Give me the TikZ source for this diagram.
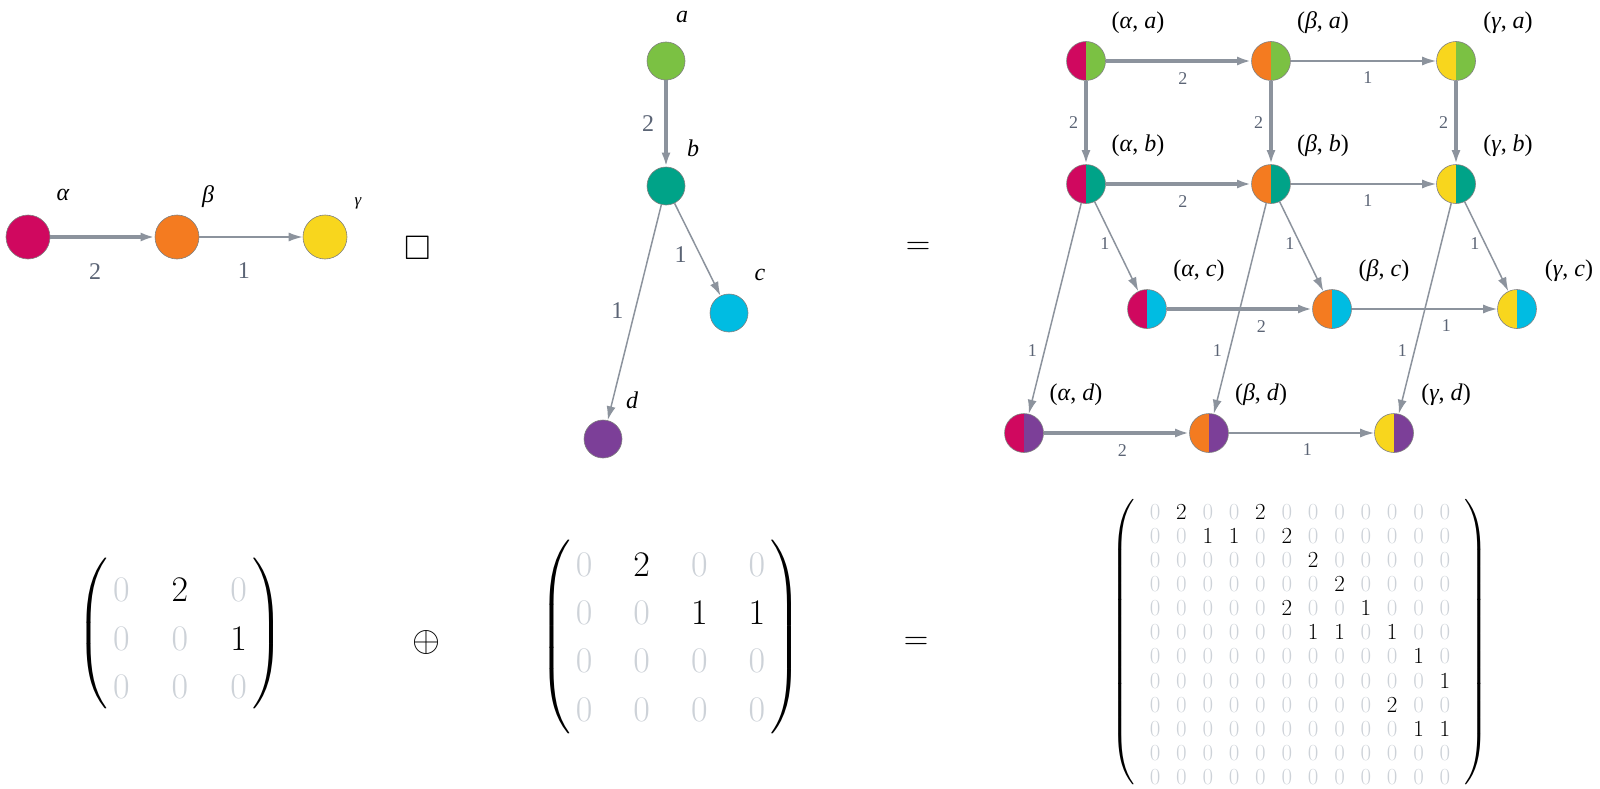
\RequirePackage{fix-cm}
\documentclass[tikz,border=0pt]{standalone}
\usepackage{amsmath}
\usepackage{amssymb}
\usepackage{fontspec}
\newfontfamily\grfont{Liberation Serif}
\usetikzlibrary{arrows.meta,matrix}

\definecolor{cAlpha}{HTML}{D0085F}
\definecolor{cBeta}{HTML}{F47B20}
\definecolor{cGamma}{HTML}{F8D61D}
\definecolor{cA}{HTML}{7BC143}
\definecolor{cB}{HTML}{00A388}
\definecolor{cC}{HTML}{00BCE2}
\definecolor{cD}{HTML}{7C3F98}
\definecolor{eline}{HTML}{8C939D}
\definecolor{etext}{HTML}{5B6475}
\definecolor{zerogray}{HTML}{CDD2D8}

\newcommand{\zz}{\color{zerogray}0}
\newcommand{\pairlbl}[2]{(\textit{#1}, \textit{#2})}

\tikzset{
  vtx/.style={circle, draw=black!50, line width=0.6pt, inner sep=0pt, minimum size=#1},
  pairvtx/.style 2 args={circle, draw=black!50, line width=0.6pt, inner sep=0pt, minimum size=39pt,
    path picture={
      \fill[#1] (path picture bounding box.south west) rectangle (path picture bounding box.north);
      \fill[#2] (path picture bounding box.south east) rectangle (path picture bounding box.north);
    }},
  wt1/.style={draw=eline, line width=1.5pt, -{Latex[length=14pt,width=9pt]}},
  wt2/.style={draw=eline, line width=4pt, -{Latex[length=14pt,width=9pt]}},
  lbl/.style={inner sep=0pt, font=\fontsize{24}{28}\grfont\itshape},
  plab/.style={inner sep=0pt, font=\fontsize{24}{28}\grfont},
  elbl/.style={inner sep=0pt, text=etext, font=\fontsize{24}{28}\grfont},
  plbl/.style={inner sep=0pt, text=etext, font=\fontsize{18}{22}\grfont},
  op/.style={inner sep=0pt, font=\fontsize{34}{40}\selectfont},
  mtx/.style={matrix of math nodes, nodes={inner sep=0pt}, inner xsep=4pt,
    left delimiter=(, right delimiter=)}
}

\begin{document}
\begin{tikzpicture}[x=1pt, y=-1pt]
\useasboundingbox (0,0) rectangle (1600,789);

% first factor
\node[vtx=44pt, fill=cAlpha] (al) at (28,237) {};
\node[vtx=44pt, fill=cBeta] (be) at (177,237) {};
\node[vtx=44pt, fill=cGamma] (ga) at (325,237) {};
\node[lbl] (l-al) at ([shift={(35,-42)}]al.center) {α};
\node[lbl] (l-be) at ([shift={(31,-40)}]be.center) {β};
\node[lbl, font=\fontsize{17}{20}\grfont\itshape] (l-ga) at ([shift={(33,-34)}]ga.center) {γ};
\draw[wt2] (al) -- node[elbl, below=25pt, pos=0.43] (w-albe) {2} (be);
\draw[wt1] (be) -- node[elbl, below=25pt, pos=0.43] (w-bega) {1} (ga);

\node[op] (box) at (418,248) {$\square$};

% second factor
\node[vtx=38pt, fill=cA] (a) at (666,61) {};
\node[vtx=38pt, fill=cB] (b) at (666,186) {};
\node[vtx=38pt, fill=cC] (c) at (729,313) {};
\node[vtx=38pt, fill=cD] (d) at (603,439) {};
\node[lbl] (l-a) at ([shift={(16,-44)}]a.center) {a};
\node[lbl] (l-b) at ([shift={(27,-38)}]b.center) {b};
\node[lbl] (l-c) at ([shift={(31,-38)}]c.center) {c};
\node[lbl] (l-d) at ([shift={(29,-39)}]d.center) {d};
\draw[wt2] (a) -- node[elbl, left=10pt] (w-ab) {2} (b);
\draw[wt1] (b) -- node[elbl, left=13pt, pos=0.56] (w-bc) {1} (c);
\draw[wt1] (b) -- node[elbl, left=11pt, pos=0.49] (w-bd) {1} (d);

\node[op] (eq-top) at (918,248) {$=$};

% product graph
\foreach \g/\gx/\gc/\gn in {al/1086/cAlpha/α, be/1271/cBeta/β, ga/1456/cGamma/γ}
  \foreach \v/\dx/\vy/\vc in {a/0/61/cA, b/0/184/cB, c/61/309/cC, d/-62/433/cD} {
    \node[pairvtx={\gc}{\vc}] (\g\v) at ({\gx+(\dx)},\vy) {};
    \node[plab] (l-\g\v) at ([shift={(52,-38)}]\g\v.center) {\pairlbl{\gn}{\v}};
  }

\foreach \v/\p in {a/0.53, b/0.53, c/0.65, d/0.54} {
  \draw[wt2] (al\v) -- node[plbl, below=10pt, pos=\p] (w2-\v) {2} (be\v);
  \draw[wt1] (be\v) -- node[plbl, below=10pt, pos=\p] (w1-\v) {1} (ga\v);
}
\foreach \g in {al,be,ga} {
  \draw[wt2] (\g a) -- node[plbl, left=6pt] (w-\g ab) {2} (\g b);
  \draw[wt1] (\g b) -- node[plbl, left=5pt, pos=0.47] (w-\g bc) {1} (\g c);
  \draw[wt1] (\g b) -- node[plbl, left=7pt, pos=0.7] (w-\g bd) {1} (\g d);
}

% adjacency matrices
\begin{scope}[font=\fontsize{36}{40}\selectfont]
\matrix (m1) [mtx, column sep=42pt, row sep=25.3pt, inner ysep=10pt] at (180,638.5) {
  \zz & 2 & \zz \\
  \zz & \zz & 1 \\
  \zz & \zz & \zz \\
};
\matrix (m2) [mtx, column sep=41pt, row sep=25.1pt, inner ysep=13pt] at (670.5,637) {
  \zz & 2 & \zz & \zz \\
  \zz & \zz & 1 & 1 \\
  \zz & \zz & \zz & \zz \\
  \zz & \zz & \zz & \zz \\
};
\node[inner sep=0pt] (oplus) at (426,642) {$\oplus$};
\node[inner sep=0pt, font=\fontsize{34}{40}\selectfont] (eq-bot) at (916,643) {$=$};
\end{scope}

\begin{scope}[font=\fontsize{28}{32}\selectfont]
\matrix (m3) [mtx, nodes={font=\fontsize{23}{26}\selectfont}, column sep=15.8pt, row sep=9.28pt,
  inner xsep=13pt, inner ysep=0pt] at (1300,644.5) {
  \zz & 2 & \zz & \zz & 2 & \zz & \zz & \zz & \zz & \zz & \zz & \zz \\
  \zz & \zz & 1 & 1 & \zz & 2 & \zz & \zz & \zz & \zz & \zz & \zz \\
  \zz & \zz & \zz & \zz & \zz & \zz & 2 & \zz & \zz & \zz & \zz & \zz \\
  \zz & \zz & \zz & \zz & \zz & \zz & \zz & 2 & \zz & \zz & \zz & \zz \\
  \zz & \zz & \zz & \zz & \zz & 2 & \zz & \zz & 1 & \zz & \zz & \zz \\
  \zz & \zz & \zz & \zz & \zz & \zz & 1 & 1 & \zz & 1 & \zz & \zz \\
  \zz & \zz & \zz & \zz & \zz & \zz & \zz & \zz & \zz & \zz & 1 & \zz \\
  \zz & \zz & \zz & \zz & \zz & \zz & \zz & \zz & \zz & \zz & \zz & 1 \\
  \zz & \zz & \zz & \zz & \zz & \zz & \zz & \zz & \zz & 2 & \zz & \zz \\
  \zz & \zz & \zz & \zz & \zz & \zz & \zz & \zz & \zz & \zz & 1 & 1 \\
  \zz & \zz & \zz & \zz & \zz & \zz & \zz & \zz & \zz & \zz & \zz & \zz \\
  \zz & \zz & \zz & \zz & \zz & \zz & \zz & \zz & \zz & \zz & \zz & \zz \\
};
\end{scope}

\end{tikzpicture}
\end{document}
